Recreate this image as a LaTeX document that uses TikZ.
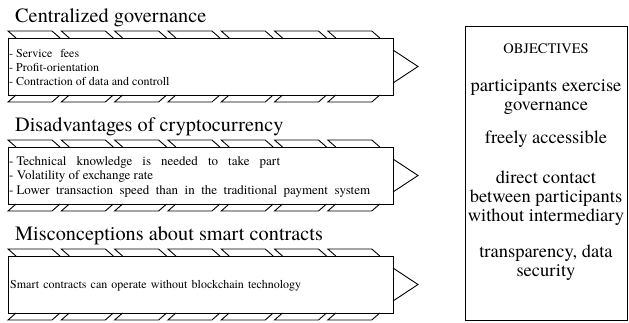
\documentclass[tikz,border=0pt]{standalone}
\usepackage{fontspec}
\IfFontExistsTF{texgyretermes-regular.otf}{\setmainfont{texgyretermes-regular.otf}}{\setmainfont{Liberation Serif}}
\begin{document}
\begin{tikzpicture}[x=1pt,y=-1pt,
  boxshape/.style={draw, line width=1.1pt, minimum width=385pt, minimum height=57pt, anchor=north west, inner sep=0pt},
  tread/.style={draw, line width=0.9pt, line join=miter},
  titletext/.style={anchor=base west, inner sep=0pt, font=\fontsize{20.3}{24}\selectfont},
  itemtext/.style={anchor=base west, inner sep=0pt, font=\fontsize{12}{14}\selectfont},
  itemtextb/.style={anchor=base west, inner sep=0pt, font=\fontsize{13}{14}\selectfont},
  objhead/.style={anchor=base, inner sep=0pt, font=\fontsize{14.5}{16}\selectfont},
  objtext/.style={anchor=base, inner sep=0pt, font=\fontsize{18.5}{20}\selectfont},
  objbox/.style={draw, line width=0.9pt, minimum width=162pt, minimum height=294pt, anchor=north west, inner sep=0pt}]
\useasboundingbox (0,0) rectangle (629,322);

% titles
\node[titletext] (t1) at (15,22) {Centralized governance};
\node[titletext] (t2) at (15,131) {Disadvantages of cryptocurrency};
\node[titletext] (t3) at (15,240) {Misconceptions about smart contracts};

% boxes
\node[boxshape] (b1) at (8,38) {};
\node[boxshape] (b2) at (8,147) {};
\node[boxshape] (b3) at (8,256) {};

% treads and arrow heads
\foreach \k in {0,1,2}{
  \pgfmathsetmacro\yt{38+109*\k}
  \pgfmathsetmacro\yb{\yt+57}
  \foreach \i in {0,...,6}{
    \pgfmathsetmacro\xo{8+53.3*\i}
    \draw[tread] (\xo+8,\yt) -- (\xo,\yt-7) -- (\xo+44,\yt-7) -- (\xo+52,\yt);
    \draw[tread] (\xo+8,\yb) -- (\xo,\yb+7) -- (\xo+44,\yb+7) -- (\xo+52,\yb);
  }
  \draw[tread] (393,\yt+12) -- (418,\yt+28.5) -- (393,\yt+45);
}

% box texts
\node[itemtext] (i11) at (9,57) {\makebox[70pt][s]{-\hspace{3pt}Service fees}};
\node[itemtext] (i12) at (9,71) {- Profit-orientation};
\node[itemtext] (i13) at (9,85) {- Contraction of data and controll};
\node[itemtextb] (i21) at (9,165) {\makebox[271pt][s]{-\hspace{3pt}Technical knowledge is needed to take part}};
\node[itemtextb] (i22) at (9,179.5) {- Volatility of exchange rate};
\node[itemtextb] (i23) at (9,194) {\makebox[361pt][s]{-\hspace{3pt}Lower transaction speed than in the traditional payment system}};
\node[itemtext] (i31) at (10,288) {\makebox[291pt][s]{Smart contracts can operate without blockchain technology}};

% objectives
\node[objbox] (ob) at (465,26) {};
\node[objhead] (o0) at (546,53) {OBJECTIVES};
\node[objtext] (o1) at (546,91) {participants exercise};
\node[objtext] (o2) at (546,110) {governance};
\node[objtext] (o3) at (546,143) {freely accessible};
\node[objtext] (o4) at (546,183) {direct contact};
\node[objtext] (o5) at (546,202) {between participants};
\node[objtext] (o6) at (546,221) {without intermediary};
\node[objtext] (o7) at (546,257) {transparency, data};
\node[objtext] (o8) at (546,276) {security};
\end{tikzpicture}
\end{document}
